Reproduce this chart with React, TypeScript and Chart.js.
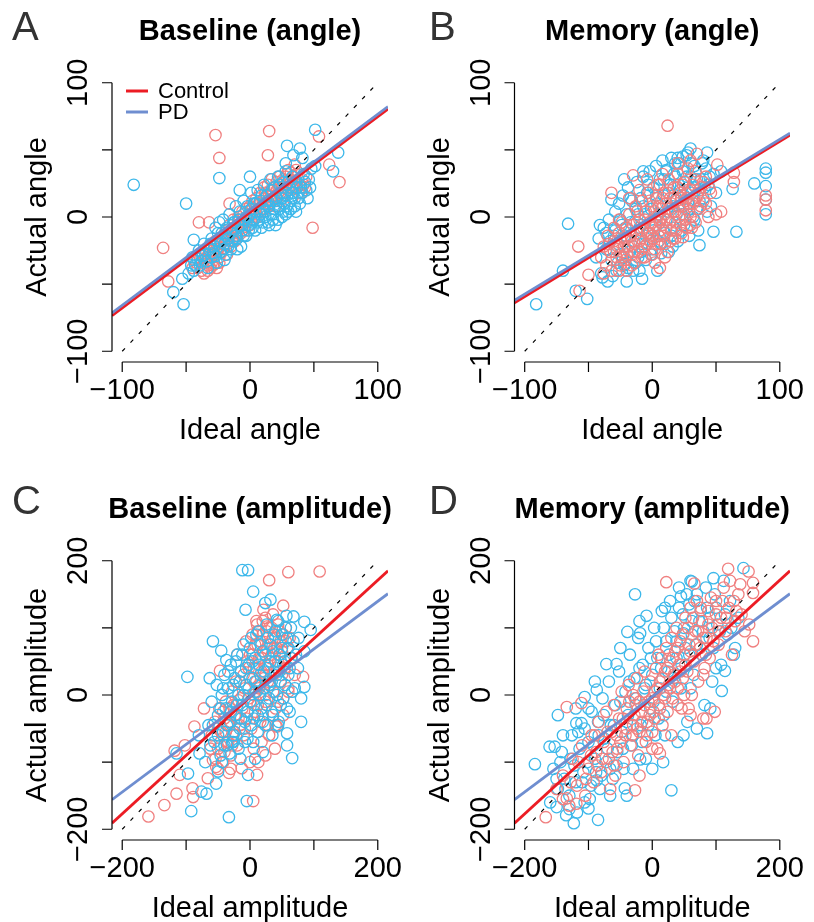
import React, { useEffect, useRef } from "react";
import { Chart, registerables } from "chart.js";

Chart.register(...registerables);

const FONT = '"Liberation Sans", Arial, Helvetica, sans-serif';
const RED_PT = "#F08080";
const BLUE_PT = "#3DB8EA";
const RED_LINE = "#EC1C24";
const BLUE_LINE = "#6F8ED0";

type Pt = [number, number];

// ---------- Tick values ----------
const angleTicks = [-100, -50, 0, 50, 100];
const angleTickLabels = [-100, 0, 100];
const ampTicks = [-200, -100, 0, 100, 200];
const ampTickLabels = [-200, 0, 200];

// ---------- A: Baseline (angle) ----------
const ctrlBaselineAngle: Pt[] = [
  [-27, 61], [15, 64], [-24, 44], [14, 46], [54, 60], [62, 39], [70, 26], [49, -8], [-68, -23], [-64, -48],
  [-40, -4], [-32, -4], [-16, 10], [35, 39],
  [-45, -38], [-42, -34], [-40, -28], [-38, -40], [-36, -32], [-35, -25], [-33, -36], [-32, -30], [-30, -22], [-30, -34],
  [-28, -28], [-27, -18], [-26, -38], [-25, -24], [-24, -30], [-22, -15], [-22, -26], [-20, -20], [-19, -10], [-18, -28],
  [-17, -16], [-16, -6], [-15, -22], [-14, -12], [-13, -2], [-12, -18], [-11, -8], [-10, -14], [-9, 0], [-8, -6],
  [-7, -12], [-6, 4], [-5, -4], [-4, -10], [-3, 6], [-2, 0], [0, -6], [0, 8], [1, 2], [2, 12],
  [3, -2], [4, 6], [5, 14], [6, 0], [7, 10], [8, 18], [9, 4], [10, 12], [11, 22], [12, 6],
  [13, 16], [14, 24], [15, 10], [16, 20], [17, 28], [18, 14], [19, 22], [20, 8], [21, 26], [22, 18],
  [23, 30], [24, 12], [25, 22], [26, 28], [27, 16], [28, 24], [29, 32], [30, 20], [32, 26], [33, 14],
  [34, 30], [36, 22], [38, 28], [40, 18], [42, 24], [44, 30],
  [-44, -32], [-41, -38], [-39, -31], [-37, -27], [-34, -30], [-31, -27], [-29, -36], [-29, -25], [-26, -21], [-23, -20],
  [-21, -23], [-19, -16], [-18, -20], [-16, -14], [-14, -18], [-13, -8], [-11, -12], [-9, -10], [-8, -2], [-6, -8],
  [-5, 2], [-3, -4], [-1, 2], [1, -2], [2, 6], [4, 10], [5, 2], [7, 4], [8, 10], [10, 6],
  [11, 14], [12, 18], [14, 8], [15, 16], [17, 12], [18, 20], [20, 16], [21, 20], [23, 22], [24, 18],
  [26, 22], [27, 26], [29, 24], [31, 28], [33, 22], [35, 26], [37, 32], [39, 24], [41, 28], [43, 22],
  [-36, -42], [-33, -40], [-31, -38], [-28, -35], [-24, -34], [30, 35], [32, 33], [28, 30], [36, 35], [38, 18],
];
const pdBaselineAngle: Pt[] = [
  [-91, 24], [-50, 10], [-24, 29], [51, 65], [29, 53], [39, 51], [69, 48], [65, 34], [51, 38], [-60, -56],
  [-52, -65], [-53, -46], [-44, -17], [-8, 20], [0, 30], [28, 40], [34, 46], [41, 44],
  [-48, -42], [-45, -30], [-43, -36], [-40, -25], [-38, -33], [-36, -20], [-35, -28], [-33, -38], [-32, -24], [-30, -16],
  [-30, -30], [-28, -22], [-27, -8], [-26, -34], [-25, -18], [-24, -4], [-23, -26], [-22, -12], [-21, -2], [-20, -20],
  [-19, -28], [-18, -8], [-17, -16], [-16, 2], [-15, -24], [-14, -10], [-13, -18], [-12, -4], [-11, 8], [-10, -16],
  [-9, -6], [-8, 4], [-7, -22], [-6, -10], [-5, 12], [-4, -2], [-3, -14], [-2, 8], [-1, -6], [0, 2],
  [1, 18], [2, -4], [3, 10], [4, -10], [5, 4], [6, 20], [7, -2], [8, 12], [9, -8], [10, 6],
  [11, 24], [12, 0], [13, 16], [14, -4], [15, 8], [16, 28], [17, 12], [18, 2], [19, 22], [20, -6],
  [21, 14], [22, 30], [23, 6], [24, 18], [25, 0], [26, 26], [27, 10], [28, 34], [29, 16], [30, 4],
  [31, 22], [32, 12], [33, 30], [34, 18], [35, 8], [36, 26], [38, 14], [40, 22], [42, 32], [44, 20],
  [46, 28], [48, 36],
  [-46, -36], [-44, -40], [-41, -31], [-39, -36], [-37, -29], [-34, -33], [-31, -20], [-29, -27], [-27, -29], [-25, -12],
  [-23, -18], [-21, -24], [-19, -14], [-17, -22], [-15, -12], [-13, -4], [-11, -14], [-9, -2], [-7, -6], [-5, -14],
  [-3, 0], [-1, -10], [1, 6], [2, -8], [3, -2], [5, 10], [6, -4], [8, 2], [9, 16], [11, 4],
  [12, 10], [14, 12], [16, 2], [17, 20], [19, 6], [20, 12], [22, 8], [23, 24], [25, 14], [26, 4],
  [28, 18], [29, 8], [30, 26], [32, 6], [33, 18], [35, 14], [36, 4], [37, 22], [39, 10], [41, 18],
  [43, 26], [45, 14], [47, 22], [15, -6], [22, -2], [28, 2], [10, -4], [18, -2], [-20, -32], [-10, -24],
];
const ctrlFitBaselineAngle: Pt[] = [[-108, -73.5], [108, 80.5]];
const pdFitBaselineAngle: Pt[] = [[-108, -71.5], [108, 82.3]];

// ---------- B: Memory (angle) ----------
const ctrlMemoryAngle: Pt[] = [
  [12, 68], [-58, -22], [-57, -55], [-32, 18], [-15, 31], [6, -38], [35, 47], [51, 39], [64, 33], [64, 26],
  [54, 4], [50, 2], [42, 10], [45, 21], [89, 16], [89, 13], [89, 5], [24, -15], [30, -6], [-50, -43],
  [-38, -42],
  [-40, -30], [-38, -22], [-36, -36], [-35, -14], [-33, -26], [-32, -40], [-30, -18], [-30, -8], [-28, -30], [-27, -22],
  [-26, -12], [-25, -36], [-24, -4], [-23, -26], [-22, -16], [-21, -32], [-20, -8], [-19, -22], [-18, 2], [-17, -14],
  [-16, -28], [-15, -6], [-14, -20], [-13, 8], [-12, -12], [-11, -26], [-10, -2], [-9, -16], [-8, 12], [-7, -8],
  [-6, -22], [-5, 4], [-4, -12], [-3, 18], [-2, -4], [-1, -18], [0, 8], [1, -8], [2, -24], [3, 14],
  [4, 0], [5, -14], [6, 24], [7, 6], [8, -6], [9, 18], [10, -20], [11, 10], [12, -2], [13, 28],
  [14, 14], [15, -10], [16, 4], [17, 22], [18, -4], [19, 12], [20, 32], [21, 0], [22, 18], [23, -12],
  [24, 8], [25, 26], [26, -2], [27, 14], [28, 36], [29, 4], [30, 20], [31, -8], [32, 10], [33, 28],
  [34, -4], [35, 16], [36, 6], [38, 22], [40, 12], [42, 30], [44, 0], [46, 18], [-14, -34], [-20, -40],
  [-8, -30], [0, -28], [6, -20], [12, -26], [18, -16], [-26, -2], [-18, 14], [-10, 20], [-4, 28], [4, 24],
  [8, 32], [20, 40], [30, 42],
  [-28, -24], [-25, -16], [-22, -22], [-20, -28], [-18, -10], [-16, -18], [-14, -26], [-12, -4], [-10, -18], [-8, -10],
  [-6, -2], [-4, -20], [-2, -12], [0, -4], [1, -16], [2, 4], [3, -6], [4, -20], [5, 8], [6, -10],
  [7, -2], [8, 14], [9, -14], [10, 2], [11, -8], [12, 18], [13, 6], [14, -4], [15, 10], [16, -16],
  [17, 14], [18, 4], [19, -10], [20, 22], [21, 8], [22, -6], [23, 14], [24, 24], [25, 2], [26, 12],
  [27, -8], [28, 20], [29, 10], [30, 0], [32, 24], [33, 12], [34, 34], [36, 18], [38, 8], [40, 26],
  [-24, -30], [-30, -26], [-34, -20], [-26, -40], [-16, -36], [-6, -30], [2, -34], [10, -30], [-12, 4], [-2, 12],
  [-20, -16], [-8, -24], [0, -14], [6, -4], [14, -18],
];
const pdMemoryAngle: Pt[] = [
  [-91, -65], [-66, -5], [-70, -40], [-60, -55], [-51, -61], [-41, -6], [-32, 13], [-22, 28], [-7, 34], [30, 51],
  [43, 48], [48, -11], [66, -11], [37, -21], [80, 25], [63, 21], [89, 36], [89, 33], [89, 23], [89, 13],
  [89, 2], [7, -27], [-10, -40], [-39, -45], [-21, -35], [16, -22], [18, 40], [11, 35], [24, 45], [54, 34],
  [-44, -30], [-42, -16], [-40, -42], [-38, -8], [-36, -24], [-35, -48], [-34, -2], [-32, -32], [-30, -14], [-29, 4],
  [-28, -40], [-27, -20], [-26, 10], [-25, -28], [-24, -6], [-23, 16], [-22, -36], [-21, -14], [-20, 2], [-19, 22],
  [-18, -26], [-17, -4], [-16, 12], [-15, -40], [-14, -18], [-13, 6], [-12, 26], [-11, -30], [-10, -8], [-9, 14],
  [-8, -20], [-7, 30], [-6, 2], [-5, -32], [-4, 18], [-3, -12], [-2, 34], [-1, 6], [0, -24], [1, 22],
  [2, -6], [3, 38], [4, 10], [5, -18], [6, 28], [7, -2], [8, 42], [9, 16], [10, -12], [11, 34],
  [12, 4], [13, -26], [14, 24], [15, 44], [16, 8], [17, -8], [18, 30], [19, 14], [20, -18], [21, 40],
  [22, 20], [23, 2], [24, 34], [25, -6], [26, 26], [27, 46], [28, 10], [29, -14], [30, 30], [31, 18],
  [32, 0], [33, 38], [34, 22], [35, 6], [36, -10], [38, 28], [40, 14], [42, 36], [44, 24], [46, 8],
  [48, 32], [50, 18],
  [-33, -18], [-31, -44], [-29, -10], [-27, -34], [-25, -2], [-23, -30], [-21, -8], [-19, -38], [-17, 14], [-15, -22],
  [-13, -34], [-11, 2], [-9, -26], [-7, 8], [-5, -14], [-3, 24], [-1, -28], [1, -10], [3, 16], [5, 2],
  [7, -20], [9, 28], [11, -2], [13, 18], [15, -14], [17, 32], [19, 2], [21, 24], [23, -10], [25, 16],
  [27, 30], [29, 6], [31, 40], [33, -2], [35, 28], [37, 12], [39, 40], [41, 22], [43, 4], [45, 30],
  [-20, -48], [-8, -46], [4, -40], [-36, -12], [20, 44], [28, 48], [40, 42],
];
const ctrlFitMemoryAngle: Pt[] = [[-108, -64], [108, 61]];
const pdFitMemoryAngle: Pt[] = [[-108, -62], [108, 62.5]];

// ---------- C: Baseline (amplitude) ----------
const ctrlBaselineAmp: Pt[] = [
  [60, 183], [109, 184], [30, 171], [52, 133], [21, 127], [11, 105], [26, 102], [-159, -181], [-134, -164], [-115, -147],
  [-89, -152], [-90, -139], [-110, -119], [-118, -83], [-102, -75], [-87, -47], [-72, -20], [-47, 36], [5, -158], [-33, -116],
  [-13, -109], [11, -119], [13, -100], [24, -90], [39, -80], [42, -47], [52, -5], [60, 5], [83, 27], [-53, -107],
  [-58, -97], [-66, -124],
  [-60, -60], [-55, -40], [-50, -80], [-48, -20], [-45, -55], [-42, -100], [-40, -35], [-38, -10], [-36, -70], [-34, -45],
  [-32, -20], [-30, -90], [-28, 5], [-26, -55], [-24, -30], [-22, 20], [-20, -75], [-18, -8], [-16, -45], [-14, 35],
  [-12, -20], [-10, -60], [-8, 10], [-6, -35], [-4, 50], [-2, -5], [0, 25], [2, -50], [4, 60], [6, 0],
  [8, -25], [10, 40], [12, 75], [14, 10], [16, -40], [18, 55], [20, 90], [22, 25], [24, -10], [26, 70],
  [28, 45], [30, 100], [32, 15], [34, 60], [36, 85], [38, 35], [40, -20], [42, 70], [44, 50], [46, 95],
  [48, 20], [50, 65], [52, -30], [54, 40], [56, 80], [60, 10], [64, 55], [70, 30], [18, -70], [30, -60],
  [6, -80], [40, -45], [-20, 60], [-6, 80], [10, 110], [24, 115], [36, 120], [0, -100], [-30, -110], [-50, -110],
  [0, 60], [4, 90], [6, 40], [8, 75], [10, 20], [12, 95], [14, 55], [16, 80], [18, 35], [20, 110],
  [22, 65], [24, 45], [26, 95], [28, 20], [30, 75], [32, 55], [34, 100], [36, 30], [38, 70], [40, 85],
  [42, 40], [44, 105], [46, 60], [48, 80], [50, 30], [52, 90], [54, 55], [56, 100], [58, 70], [62, 85],
  [-10, 30], [-14, -5], [-18, -35], [-22, -60], [-26, -15], [-30, -40], [-34, -70], [-38, -55], [-42, -25], [-46, -75],
  [-50, -50], [-54, -95], [-8, -50], [-4, -25], [2, -10], [8, 5], [16, 15], [24, 0], [-16, 20], [-2, 40],
  [12, -15], [20, -30], [28, -45], [36, 5], [44, -10], [-28, -75], [-40, -85], [-62, -80],
];
const pdBaselineAmp: Pt[] = [
  [-12, 186], [-3, 186], [5, 154], [-7, 127], [24, 137], [32, 142], [-98, 27], [-58, 80], [-45, 66], [-37, 52],
  [-63, 25], [-92, -173], [-33, -182], [-5, -158], [-68, -147], [-76, -144], [-97, -117], [-115, -87], [66, -94], [58, -75],
  [58, -57], [80, -40], [85, 12], [68, 117], [85, 109], [95, 97], [57, 118], [42, 112], [-3, -119], [8, -95],
  [-50, -114], [-53, -132], [-79, -87], [-32, -87], [-26, -70],
  [-65, -45], [-60, -10], [-56, -70], [-52, 15], [-50, -30], [-46, -90], [-44, 0], [-42, -55], [-40, 30], [-38, -20],
  [-36, -75], [-34, 10], [-32, -40], [-30, 45], [-28, -10], [-26, -60], [-24, 25], [-22, -30], [-20, 60], [-18, 0],
  [-16, -50], [-14, 35], [-12, -15], [-10, 75], [-8, -40], [-6, 15], [-4, -65], [-2, 45], [0, -10], [2, 85],
  [4, 25], [6, -35], [8, 55], [10, 5], [12, -55], [14, 95], [16, 30], [18, -20], [20, 65], [22, 10],
  [24, -45], [26, 105], [28, 40], [30, -5], [32, 75], [34, 20], [36, -30], [38, 90], [40, 50], [42, 0],
  [44, 110], [46, 35], [48, -15], [50, 70], [52, 45], [55, 15], [58, 85], [60, 30], [62, -25], [65, 55],
  [68, 80], [70, 10], [75, 40], [80, -5], [85, 65], [-70, -100], [-80, -60], [-15, -95], [5, -70], [20, -85],
  [35, -60], [45, -40],
  [-50, -60], [-46, -20], [-42, 10], [-40, -75], [-36, -45], [-34, 35], [-30, -25], [-28, -70], [-26, 15], [-24, -55],
  [-22, 50], [-20, -15], [-18, -80], [-16, 20], [-14, -35], [-12, 60], [-10, 0], [-8, -70], [-6, 40], [-4, -25],
  [-2, 10], [0, 70], [2, -45], [4, 50], [6, -15], [8, 20], [10, 90], [12, -30], [14, 45], [16, 0],
  [18, 75], [20, -40], [22, 35], [24, 60], [26, -15], [28, 85], [30, 15], [32, 50], [34, -25], [36, 65],
  [38, 5], [40, 95], [42, 30], [44, -45], [46, 60], [48, 20], [50, 90], [52, -5], [54, 50], [56, 100],
  [58, -20], [60, 70], [62, 40], [66, 5], [72, 60], [76, 85], [64, 100], [-58, -45], [-62, -75], [-44, -100],
];
const ctrlFitBaselineAmp: Pt[] = [[-216, -191], [216, 185]];
const pdFitBaselineAmp: Pt[] = [[-216, -156], [216, 151]];

// ---------- D: Memory (amplitude) ----------
const ctrlMemoryAmp: Pt[] = [
  [22, 168], [-167, -182], [119, 188], [151, 184], [158, 167], [158, 152], [152, 105], [158, 80], [66, 166], [-134, -18],
  [-111, -12], [-27, -142], [12, -87], [85, -35], [57, -20], [-134, -154], [-119, -162],
  [-150, -140], [-140, -120], [-130, -165], [-125, -95], [-118, -135], [-110, -75], [-105, -150], [-100, -110], [-95, -60], [-92, -130],
  [-88, -85], [-84, -40], [-80, -115], [-76, -70], [-72, -25], [-68, -95], [-64, -55], [-60, -15], [-58, -120], [-55, -80],
  [-52, -35], [-48, 5], [-45, -100], [-42, -60], [-40, -20], [-37, 15], [-34, -75], [-30, -45], [-27, -5], [-24, 25],
  [-22, -90], [-20, -55], [-17, -25], [-14, 5], [-12, 35], [-10, -70], [-8, -40], [-6, -10], [-3, 20], [0, -55],
  [2, -25], [4, 5], [6, 40], [8, -80], [10, -15], [12, 20], [14, 55], [16, -45], [18, 0], [20, 35],
  [22, 70], [24, -25], [26, 15], [28, 50], [30, 85], [32, -5], [34, 30], [36, 65], [38, 100], [40, 10],
  [42, 45], [44, 80], [46, -20], [48, 25], [50, 60], [52, 115], [55, 35], [58, 75], [60, 130], [62, 0],
  [65, 50], [68, 95], [70, 140], [72, 20], [75, 70], [78, 110], [80, -35], [82, 40], [85, 85], [88, 125],
  [90, 55], [94, 100], [98, -25], [100, 140], [104, 75], [108, 115], [112, 160], [115, 95], [120, 130], [125, 60],
  [130, 110], [135, 150], [140, 120], [145, 95], [-66, -140], [-20, -120], [30, -60], [60, -30],
  [-140, -155], [-128, -130], [-116, -100], [-104, -125], [-96, -90], [-86, -105], [-78, -95], [-70, -55], [-62, -85], [-56, -60],
  [-50, -70], [-46, -35], [-40, -50], [-36, -10], [-32, -60], [-28, -30], [-24, -50], [-20, -10], [-16, -40], [-12, -15],
  [-8, -60], [-4, -30], [0, -5], [4, -35], [8, 10], [12, -20], [16, 25], [20, -5], [24, 40], [28, 10],
  [32, 55], [36, 20], [40, 70], [44, 35], [48, 90], [52, 45], [56, 100], [60, 65], [64, 115], [68, 75],
  [72, 95], [76, 130], [80, 85], [84, 60], [88, 105], [92, 145], [96, 80], [100, 120], [104, 95], [110, 140],
  [116, 115], [122, 170], [128, 140], [132, 125], [138, 165], [-60, -105], [-90, -60], [10, 60], [50, 0], [80, 30],
  [-30, 0], [0, -80], [40, -15],
];
const pdMemoryAmp: Pt[] = [
  [-27, 150], [-9, 118], [-39, 94], [-19, 92], [-72, 46], [-56, 46], [-184, -103], [-161, -77], [-153, -77], [-148, -30],
  [-135, -179], [-123, -191], [-85, -186], [30, -142], [86, -57], [109, 6], [114, 36], [130, 70], [143, 189], [96, 174],
  [62, 169], [45, 147], [49, 92], [-150, -167], [-87, -127], [-100, -169], [-43, -139], [-19, -96], [17, -100], [49, -60],
  [91, -20], [-106, -3], [-87, 8], [-111, -42], [-119, -42],
  [-160, -160], [-155, -110], [-148, -140], [-142, -85], [-138, -125], [-130, -150], [-126, -60], [-122, -105], [-118, -175], [-114, -80],
  [-110, -130], [-106, -50], [-102, -100], [-98, -155], [-95, -25], [-92, -75], [-88, -115], [-85, -40], [-82, -140], [-78, -5],
  [-75, -65], [-72, -100], [-68, 20], [-65, -45], [-62, -125], [-58, -15], [-55, -85], [-52, 35], [-48, -55], [-45, -110],
  [-42, 5], [-38, -30], [-35, 60], [-32, -75], [-28, 25], [-25, -5], [-22, 85], [-18, -45], [-15, 45], [-12, 10],
  [-10, -95], [-6, 70], [-3, -20], [0, 30], [3, 100], [5, -60], [8, 55], [12, 10], [15, 125], [18, -30],
  [22, 80], [25, 35], [28, 140], [32, -10], [35, 95], [38, 55], [42, 160], [45, 10], [48, 120], [52, 70],
  [55, -40], [58, 135], [62, 90], [65, 30], [70, 150], [74, 110], [78, 60], [82, -15], [86, 130], [90, 85],
  [94, 20], [98, 150], [102, 105], [108, 45], [112, 170], [118, 90], [122, 140], [128, 60], [135, 115], [-90, 20],
  [-120, -20], [-140, -60], [-40, -150], [0, -110], [40, -70], [70, -50], [60, 170], [20, 130], [-20, 110],
  [-150, -125], [-144, -100], [-136, -140], [-128, -95], [-120, -130], [-116, -55], [-108, -115], [-100, -70], [-96, -135], [-90, -95],
  [-84, -60], [-80, -120], [-76, -30], [-70, -80], [-66, -110], [-60, -45], [-56, -105], [-50, -10], [-46, -80], [-40, -40],
  [-36, 20], [-30, -60], [-26, -15], [-20, 40], [-16, -70], [-10, 15], [-6, -45], [-2, 55], [2, -10], [6, 80],
  [10, -35], [14, 40], [18, 100], [22, 5], [26, 60], [30, 115], [34, 25], [38, 80], [42, 130], [46, 45],
  [50, 100], [54, 150], [58, 60], [62, 110], [66, 140], [70, 75], [76, 125], [80, 95], [84, 160], [90, 115],
  [96, 70], [100, 130], [106, 95], [114, 120], [124, 100], [-130, -170], [-106, -160], [-66, -150], [-30, -110], [20, -60],
  [60, 10], [100, 40], [-50, 70], [-100, -20],
];
const ctrlFitMemoryAmp: Pt[] = [[-216, -191], [216, 185]];
const pdFitMemoryAmp: Pt[] = [[-216, -156], [216, 151]];

const identityAngle: Pt[] = [[-100, -100], [97, 97]];
const identityAmp: Pt[] = [[-200, -200], [193, 193]];

// ---------- Panel definitions ----------
interface PanelDef {
  letter: string;
  title: string;
  xTitle: string;
  yTitle: string;
  lim: number;
  ticks: number[];
  labels: number[];
  rect: { l: number; t: number; r: number; b: number };
  letterX: number;
  letterY: number;
  ctrl: Pt[];
  pd: Pt[];
  ctrlFit: Pt[];
  pdFit: Pt[];
  identity: Pt[];
  legend: boolean;
  redOnTop: boolean;
}

const W = 814;
const H = 922;

const panels: PanelDef[] = [
  {
    letter: "A", title: "Baseline (angle)", xTitle: "Ideal angle", yTitle: "Actual angle",
    lim: 108, ticks: angleTicks, labels: angleTickLabels,
    rect: { l: 112, t: 72, r: 388, b: 362 }, letterX: 12, letterY: 29,
    ctrl: ctrlBaselineAngle, pd: pdBaselineAngle, ctrlFit: ctrlFitBaselineAngle, pdFit: pdFitBaselineAngle,
    identity: identityAngle, legend: true, redOnTop: false,
  },
  {
    letter: "B", title: "Memory (angle)", xTitle: "Ideal angle", yTitle: "Actual angle",
    lim: 108, ticks: angleTicks, labels: angleTickLabels,
    rect: { l: 514.5, t: 72, r: 790, b: 362 }, letterX: 429, letterY: 29,
    ctrl: ctrlMemoryAngle, pd: pdMemoryAngle, ctrlFit: ctrlFitMemoryAngle, pdFit: pdFitMemoryAngle,
    identity: identityAngle, legend: false, redOnTop: true,
  },
  {
    letter: "C", title: "Baseline (amplitude)", xTitle: "Ideal amplitude", yTitle: "Actual amplitude",
    lim: 216, ticks: ampTicks, labels: ampTickLabels,
    rect: { l: 112, t: 550, r: 388, b: 840 }, letterX: 12, letterY: 503,
    ctrl: ctrlBaselineAmp, pd: pdBaselineAmp, ctrlFit: ctrlFitBaselineAmp, pdFit: pdFitBaselineAmp,
    identity: identityAmp, legend: false, redOnTop: false,
  },
  {
    letter: "D", title: "Memory (amplitude)", xTitle: "Ideal amplitude", yTitle: "Actual amplitude",
    lim: 216, ticks: ampTicks, labels: ampTickLabels,
    rect: { l: 514.5, t: 550, r: 790, b: 840 }, letterX: 429, letterY: 503,
    ctrl: ctrlMemoryAmp, pd: pdMemoryAmp, ctrlFit: ctrlFitMemoryAmp, pdFit: pdFitMemoryAmp,
    identity: identityAmp, legend: false, redOnTop: true,
  },
];

const fmt = (v: number) => (v < 0 ? "\u2212" + Math.abs(v) : String(v));
const toXY = (a: Pt[]) => a.map(([x, y]) => ({ x, y }));

function drawDecor(chart: any, def: PanelDef) {
  const ctx: CanvasRenderingContext2D = chart.ctx;
  const xs = chart.scales.x;
  const ys = chart.scales.y;
  const ca = chart.chartArea;
  ctx.save();
  ctx.strokeStyle = "#000";
  ctx.fillStyle = "#000";
  ctx.lineWidth = 1.2;

  // x axis
  const xb = ca.bottom;
  const xa = xs.getPixelForValue(def.ticks[0]);
  const xz = xs.getPixelForValue(def.ticks[def.ticks.length - 1]);
  ctx.beginPath();
  ctx.moveTo(xa, xb);
  ctx.lineTo(xz, xb);
  def.ticks.forEach((t) => {
    const p = xs.getPixelForValue(t);
    ctx.moveTo(p, xb);
    ctx.lineTo(p, xb + 10);
  });
  // y axis
  const yl = ca.left;
  const ya = ys.getPixelForValue(def.ticks[0]);
  const yz = ys.getPixelForValue(def.ticks[def.ticks.length - 1]);
  ctx.moveTo(yl, ya);
  ctx.lineTo(yl, yz);
  def.ticks.forEach((t) => {
    const p = ys.getPixelForValue(t);
    ctx.moveTo(yl, p);
    ctx.lineTo(yl - 10, p);
  });
  ctx.stroke();

  // tick labels
  ctx.font = `29px ${FONT}`;
  ctx.textAlign = "center";
  ctx.textBaseline = "middle";
  def.labels.forEach((t) => ctx.fillText(fmt(t), xs.getPixelForValue(t), xb + 29));
  def.labels.forEach((t) => {
    ctx.save();
    ctx.translate(yl - 33, ys.getPixelForValue(t));
    ctx.rotate(-Math.PI / 2);
    ctx.fillText(fmt(t), 0, 0);
    ctx.restore();
  });

  // axis titles
  ctx.font = `29px ${FONT}`;
  ctx.fillText(def.xTitle, (ca.left + ca.right) / 2, xb + 69);
  ctx.save();
  ctx.translate(yl - 74, (ca.top + ca.bottom) / 2);
  ctx.rotate(-Math.PI / 2);
  ctx.fillText(def.yTitle, 0, 0);
  ctx.restore();

  // main title
  ctx.font = `bold 29px ${FONT}`;
  ctx.fillText(def.title, (ca.left + ca.right) / 2, ca.top - 40);

  // panel letter
  ctx.font = `40px ${FONT}`;
  ctx.fillStyle = "#333";
  ctx.textAlign = "left";
  ctx.fillText(def.letter, def.letterX, def.letterY);

  // legend
  if (def.legend) {
    const items: [string, string, number][] = [
      ["Control", RED_LINE, ca.top + 19],
      ["PD", BLUE_LINE, ca.top + 40],
    ];
    ctx.font = `22px ${FONT}`;
    ctx.fillStyle = "#000";
    items.forEach(([label, color, y]) => {
      ctx.strokeStyle = color;
      ctx.lineWidth = 3;
      ctx.beginPath();
      ctx.moveTo(ca.left + 14, y);
      ctx.lineTo(ca.left + 36, y);
      ctx.stroke();
      ctx.fillText(label, ca.left + 46, y + 1);
    });
  }
  ctx.restore();
}

function Panel({ def }: { def: PanelDef }) {
  const ref = useRef<HTMLCanvasElement>(null);
  useEffect(() => {
    const canvas = ref.current;
    if (!canvas) return;
    const { rect } = def;
    const decor = {
      id: "rDecor" + def.letter,
      afterDraw(chart: any) {
        drawDecor(chart, def);
      },
    };
    const pointStyle = (color: string) => ({
      pointRadius: 5.7,
      pointHoverRadius: 5.7,
      pointBorderWidth: 1.3,
      borderColor: color,
      pointBorderColor: color,
      backgroundColor: "rgba(0,0,0,0)",
      pointBackgroundColor: "rgba(0,0,0,0)",
    });
    const chart = new Chart(canvas, {
      type: "scatter",
      data: {
        datasets: [
          {
            label: "PD fit", data: toXY(def.pdFit), showLine: true, borderColor: BLUE_LINE,
            borderWidth: 2.8, pointRadius: 0, order: 0,
          } as any,
          {
            label: "Control fit", data: toXY(def.ctrlFit), showLine: true, borderColor: RED_LINE,
            borderWidth: 2.8, pointRadius: 0, order: 1,
          } as any,
          {
            label: "Identity", data: toXY(def.identity), showLine: true, borderColor: "#000",
            borderWidth: 1.2, borderDash: [4, 8], pointRadius: 0, order: 2,
          } as any,
          { label: "Control", data: toXY(def.ctrl), ...pointStyle(RED_PT), order: def.redOnTop ? 3 : 4 } as any,
          { label: "PD", data: toXY(def.pd), ...pointStyle(BLUE_PT), order: def.redOnTop ? 4 : 3 } as any,
        ],
      },
      options: {
        responsive: false,
        animation: false,
        devicePixelRatio: 1,
        events: [],
        layout: { padding: { left: rect.l, top: rect.t, right: W - rect.r, bottom: H - rect.b } },
        plugins: { legend: { display: false }, tooltip: { enabled: false }, title: { display: false } },
        scales: {
          x: { type: "linear", min: -def.lim, max: def.lim, display: false },
          y: { type: "linear", min: -def.lim, max: def.lim, display: false },
        },
      },
      plugins: [decor],
    });
    return () => chart.destroy();
  }, [def]);
  return (
    <canvas
      ref={ref}
      width={W}
      height={H}
      style={{ position: "absolute", left: 0, top: 0, width: W, height: H }}
    />
  );
}

export default function App() {
  return (
    <div style={{ position: "absolute", left: 0, top: 0, width: W, height: H, background: "#fff" }}>
      {panels.map((p) => (
        <Panel key={p.letter} def={p} />
      ))}
    </div>
  );
}
